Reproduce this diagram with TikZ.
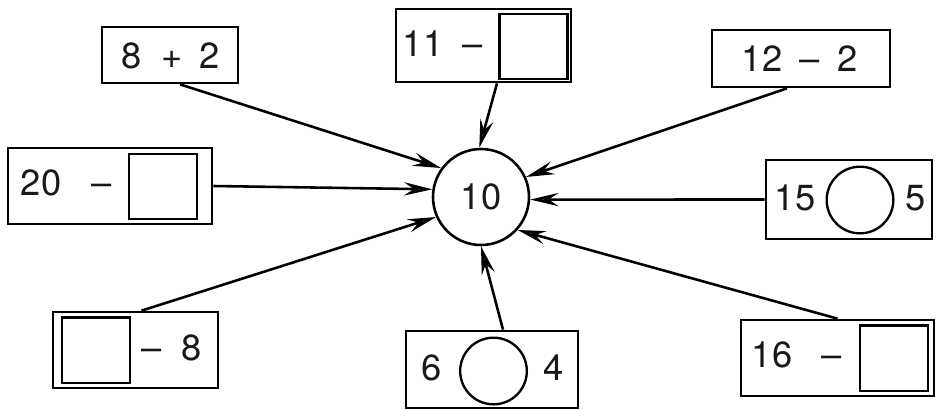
\documentclass[tikz,border=0pt]{standalone}
\usepackage{fontspec}
\setmainfont{TeX Gyre Heros}
\usetikzlibrary{arrows.meta, calc}
\tikzset{
  every picture/.style={line width=2.2pt},
  box/.style={draw, rectangle, line width=2.3pt, inner sep=0pt},
  num/.style={font=\fontsize{31}{31}\selectfont, text=black!90, inner sep=0pt, text height=22pt, text depth=0pt},
  slot/.style={draw, rectangle, line width=2pt, minimum width=2.04cm, minimum height=1.96cm, inner sep=0pt},
  hole/.style={draw, circle, line width=2pt, minimum size=2cm, inner sep=0pt},
  arr/.style={-{Stealth[length=8.5mm, width=4mm, inset=3mm, fill=black!60]}, line width=2.2pt},
}
\begin{document}
\begin{tikzpicture}[x=0.03cm, y=-0.03cm]
  \useasboundingbox (0,0) rectangle (936,410);
  % centre
  \node[num, draw, circle, line width=2.2pt, minimum size=2.88cm] (c) at (481,197) {10};
  % boxes round it
  \node[box, minimum width=4.08cm, minimum height=1.68cm] (b1) at (170,55) {};
  \node[num] at (132,56) {8};
  \node[num] at (172,56) {+};
  \node[num] at (210,56) {2};

  \node[box, minimum width=5.25cm, minimum height=2.19cm] (b2) at (483.5,45.5) {};
  \node[num] at (423,44) {11};
  \node[num] at (473,44) {--};
  \node[slot] (b2s) at (533.5,46.5) {};

  \node[box, minimum width=5.34cm, minimum height=1.71cm] (b3) at (801,58.5) {};
  \node[num] at (762,59) {12};
  \node[num] at (810,59) {--};
  \node[num] at (848,59) {2};

  \node[box, minimum width=6.12cm, minimum height=2.28cm] (b4) at (110,186) {};
  \node[num] at (41,183) {20};
  \node[num] at (102,183) {--};
  \node[slot] (b4s) at (163,186.5) {};

  \node[box, minimum width=4.98cm, minimum height=2.37cm] (b5) at (849,199.5) {};
  \node[num] at (795,198) {15};
  \node[hole] (b5h) at (860,200) {};
  \node[num] at (916,198) {5};

  \node[box, minimum width=4.95cm, minimum height=2.28cm] (b6) at (135.5,350) {};
  \node[slot] (b6s) at (96,350) {};
  \node[num] at (152,348) {--};
  \node[num] at (192,348) {8};

  \node[box, minimum width=5.16cm, minimum height=2.31cm] (b7) at (492,369.5) {};
  \node[num] at (432,368) {6};
  \node[hole] (b7h) at (493.5,371) {};
  \node[num] at (554,368) {4};

  \node[box, minimum width=5.79cm, minimum height=2.28cm] (b8) at (837.5,358) {};
  \node[num] at (772,355) {16};
  \node[num] at (832,355) {--};
  \node[slot] (b8s) at (894,358) {};
  % arrows
  \draw[arr] ($(b1.south)+(10,0)$) -- (c.144);
  \draw[arr] ($(b2.south)+(13.5,0)$) -- (c.92);
  \draw[arr] ($(b3.south)+(-14,0)$) -- (c.24);
  \draw[arr] (b4.east) -- (c.171);
  \draw[arr] (b5.west) -- (c.357);
  \draw[arr] ($(b6.north)+(6,0)$) -- (c.204);
  \draw[arr] ($(b7.north)+(11,0)$) -- (c.270);
  \draw[arr] (b8.north) -- (c.318);
\end{tikzpicture}
\end{document}
